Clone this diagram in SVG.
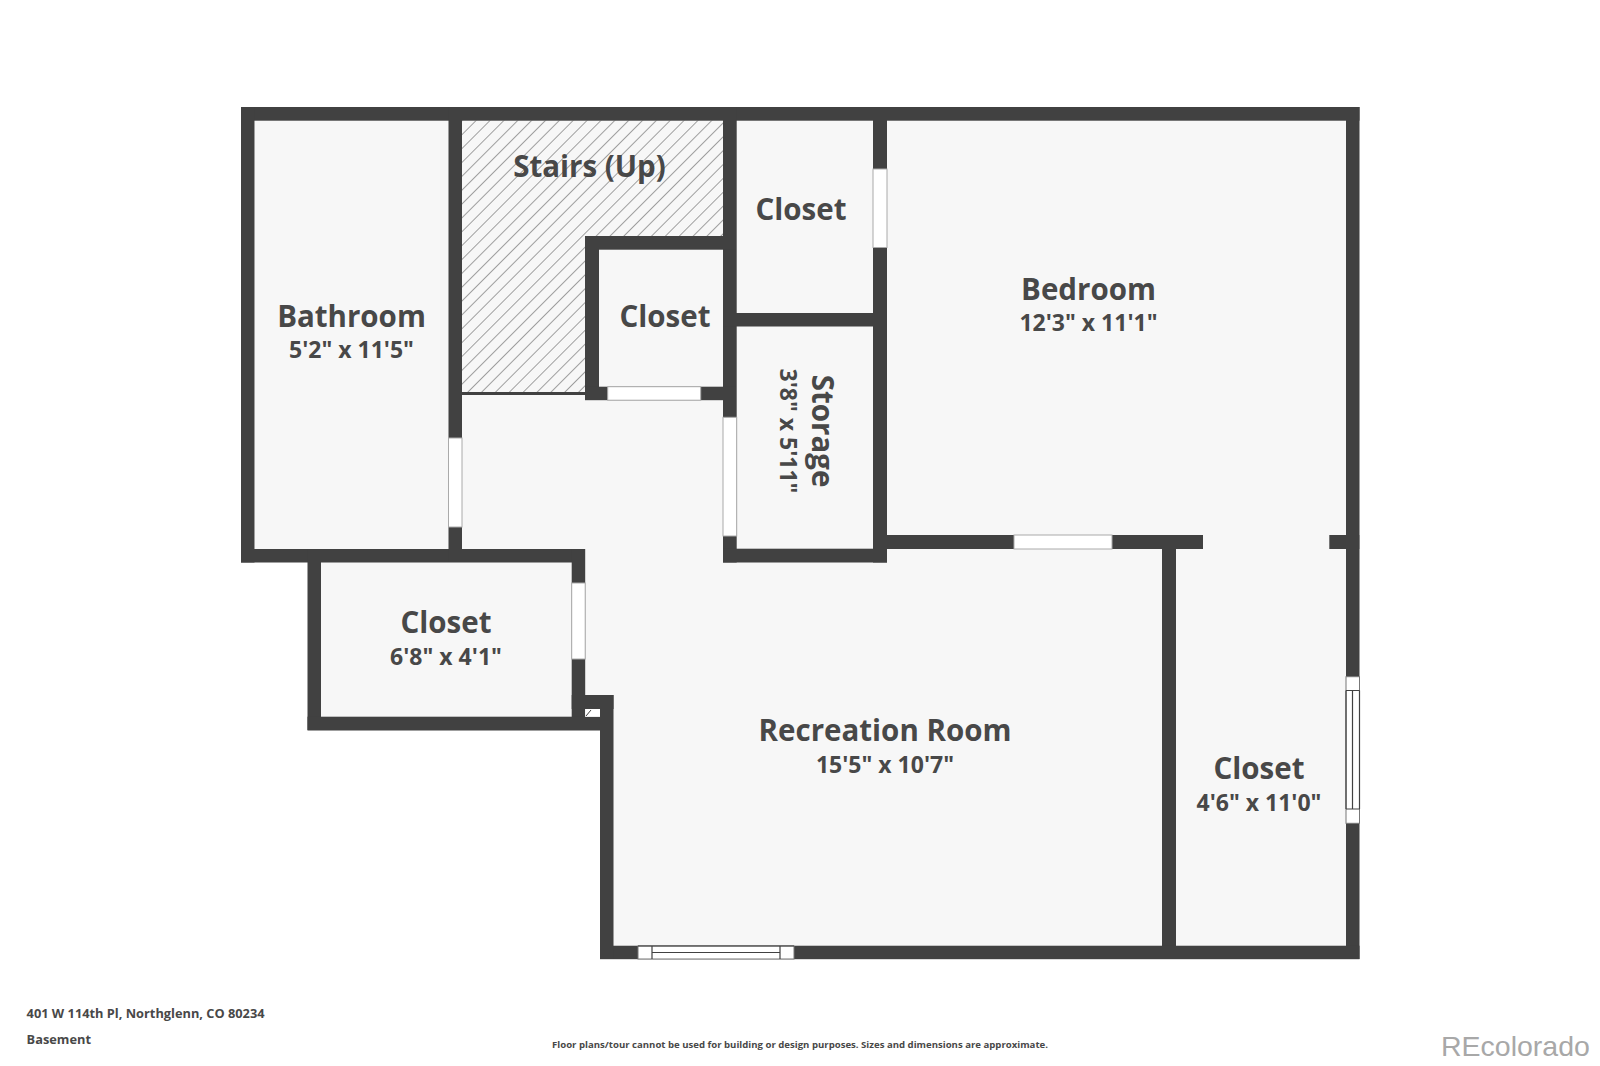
<svg xmlns="http://www.w3.org/2000/svg" width="1600" height="1066" viewBox="0 0 1600 1066">
<style>
.w{fill:#414141}
.f{fill:#f7f7f7}
.g{fill:#fff;stroke:#aaa;stroke-width:1}
.gl{stroke:#414141;stroke-width:1.2;fill:none}
text{font-family:"Open Sans","Noto Sans",sans-serif;font-weight:700;fill:#484848}
.n{font-size:29.500px;text-anchor:middle}
.d{font-size:23px;text-anchor:middle}
.s{font-size:12.800px}
</style>
<defs>
<pattern id="h" width="9.800" height="9.800" patternUnits="userSpaceOnUse" patternTransform="rotate(-45)">
<rect width="9.800" height="9.800" fill="#f7f7f7"/>
<line x1="0" y1="0" x2="9.800" y2="0" stroke="#7a7a7a" stroke-width="1.400"/>
</pattern>
</defs>
<rect width="1600" height="1066" fill="#fff"/>
<path class="f" d="M255 120H1346V945H613V730H321V562H255Z"/>
<path fill="url(#h)" d="M462 120.500H723V236H585V393H462Z"/>
<rect x="462" y="392" width="123" height="3" fill="#414141"/>
<g class="w">
<rect x="241" y="107" width="1118.500" height="13.700"/>
<rect x="241" y="107" width="13.500" height="455.500"/>
<rect x="241" y="549" width="344" height="13.500"/>
<rect x="448.500" y="107" width="13.500" height="455"/>
<rect x="723" y="107" width="13.700" height="455.500"/>
<rect x="585" y="236" width="151" height="13.700"/>
<rect x="585" y="236" width="14" height="164"/>
<rect x="585" y="386.700" width="151" height="13.500"/>
<rect x="723" y="313" width="164" height="13.500"/>
<rect x="873" y="107" width="14" height="455.500"/>
<rect x="723" y="548.700" width="164" height="13.800"/>
<rect x="873" y="535" width="330" height="14"/>
<rect x="1329.300" y="535" width="30" height="14"/>
<rect x="1346" y="107" width="13.500" height="852"/>
<rect x="1162" y="535" width="14" height="424"/>
<rect x="600" y="945.700" width="759.500" height="13.500"/>
<rect x="600" y="695" width="13.500" height="264"/>
<rect x="571.700" y="549" width="13.500" height="181"/>
<rect x="571.700" y="695" width="41.800" height="14"/>
<rect x="307.500" y="549" width="13.500" height="181"/>
<rect x="307.500" y="716.700" width="292.500" height="13.800"/>
</g>
<rect x="585.200" y="709" width="14.800" height="7.700" fill="#fff"/>
<line x1="586" y1="716" x2="591" y2="710" stroke="#414141" stroke-width="1"/>
<g>
<rect class="g" x="607.700" y="386.700" width="93" height="13.500"/>
<rect class="g" x="723" y="417.300" width="13.700" height="118.700"/>
<rect class="g" x="873" y="169" width="14" height="78.500"/>
<rect class="g" x="448.500" y="438" width="13.500" height="89"/>
<rect class="g" x="571.700" y="583" width="13.500" height="76"/>
<rect class="g" x="1014" y="535" width="98" height="14"/>
<rect x="1346" y="676.700" width="13.500" height="146.600" fill="#fff" stroke="#777" stroke-width="1"/>
<path class="gl" d="M1346 690.500H1359.500M1346 809H1359.500M1352.500 690.500V809M1346 690.500V809M1359.500 690.500V809"/>
<rect x="638" y="946" width="156" height="13" fill="#fff" stroke="#777" stroke-width="1"/>
<path class="gl" d="M652 946V959M780 946V959M652 952.500H780M638 946H794"/>
</g>
<text class="n" x="589.500" y="176.500">Stairs (Up)</text>
<text class="n" x="801" y="219.500">Closet</text>
<text class="n" x="665" y="326.500">Closet</text>
<text class="n" x="351.500" y="326.500">Bathroom</text>
<text class="d" x="351.500" y="358">5'2" x 11'5"</text>
<text class="n" x="1088.500" y="299.500">Bedroom</text>
<text class="d" x="1088.500" y="331">12'3" x 11'1"</text>
<text class="n" x="446" y="632.500">Closet</text>
<text class="d" x="446" y="664.500">6'8" x 4'1"</text>
<text class="n" x="885" y="741">Recreation Room</text>
<text class="d" x="885" y="773">15'5" x 10'7"</text>
<text class="n" x="1259" y="778.500">Closet</text>
<text class="d" x="1259" y="811">4'6" x 11'0"</text>
<text class="n" transform="translate(812 431) rotate(90)">Storage</text>
<text class="d" transform="translate(780 431) rotate(90)">3'8" x 5'11"</text>
<text class="s" x="26.600" y="1018">401 W 114th Pl, Northglenn, CO 80234</text>
<text class="s" x="26.600" y="1043.500">Basement</text>
<text x="800" y="1048" font-size="9.600" text-anchor="middle">Floor plans/tour cannot be used for building or design purposes. Sizes and dimensions are approximate.</text>
<text x="1441" y="1056" style="font-family:'Liberation Sans',Arial,sans-serif;font-weight:400;font-size:28.500px;fill:#a8a8a8">REcolorado</text>
</svg>
